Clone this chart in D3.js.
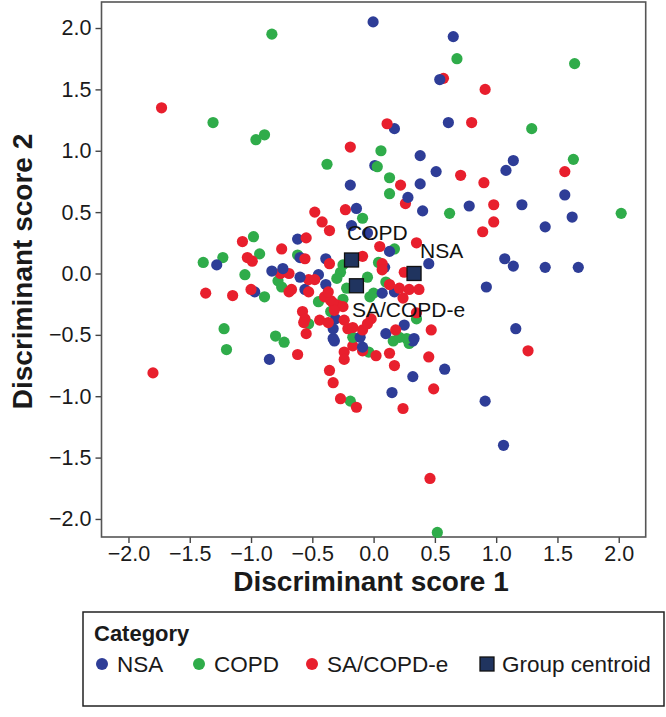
<!DOCTYPE html>
<html>
<head>
<meta charset="utf-8">
<script src="https://cdn.jsdelivr.net/npm/d3@7"></script>
<style>
  html, body { margin: 0; padding: 0; background: #fff; }
  svg { display: block; font-family: "Liberation Sans", Arial, Helvetica, sans-serif; }
</style>
</head>
<body>
<svg id="chart" width="666" height="717"></svg>
<script>
// ---- Data (discriminant scores) ----
const categories = ["NSA", "COPD", "SA/COPD-e"];
const categoryColors = ["#2e3d97", "#2fac4a", "#e81f2d"];

const nsaX = [-0.004,0.65,0.54,0.61,0.17,0.38,1.14,1.08,0.01,0.51,-0.19,0.38,1.56,0.28,0.78,1.21,0.40,1.62,-0.14,-0.18,1.40,-0.05,-1.28,-0.83,-0.74,-0.97,-0.85,1.07,1.14,1.40,1.67,0.92,1.16,0.91,1.06,-0.32,-0.09,0.32,0.58,0.32,0.15,-0.62,-0.60,-0.39,-0.45,-0.56,-0.39,-0.31,-0.33,0.13,0.45,0.17,0.33,0.09,0.07,0.10,0.25,-0.11,-0.33,-0.60];
const nsaY = [2.05,1.93,1.58,1.23,1.18,0.96,0.92,0.84,0.88,0.83,0.72,0.73,0.64,0.62,0.55,0.56,0.51,0.46,0.53,0.39,0.38,0.33,0.07,0.02,0.04,-0.15,-0.70,0.12,0.06,0.05,0.05,-0.11,-0.45,-1.04,-1.40,-0.55,-0.60,-0.55,-0.78,-0.84,-0.97,0.28,0.13,0.12,-0.01,-0.13,-0.09,-0.37,-0.53,0.18,0.08,-0.15,-0.53,0.05,-0.16,-0.49,-0.42,-0.52,-0.45,-0.03];

const copdX = [-0.83,0.68,1.64,-1.31,-0.96,-0.89,1.29,0.06,1.63,-0.38,0.03,0.13,0.13,0.62,2.02,-0.09,-0.98,-0.93,-1.23,-1.39,-1.05,-0.78,-0.75,-0.89,-1.22,-0.80,-0.73,-1.20,0.52,-0.04,0.16,0.29,-0.19,-0.62,-0.27,-0.25,-0.45,-0.25,-0.35,-0.53,0.17,0.04,0.27,0.35,-0.03,-0.05,0.10,0.00,0.21,-0.17,-0.30,-0.22];
const copdY = [1.95,1.75,1.71,1.23,1.09,1.13,1.18,1.00,0.93,0.89,0.87,0.78,0.65,0.49,0.49,0.45,0.30,0.16,0.13,0.09,-0.01,-0.06,-0.11,-0.19,-0.45,-0.51,-0.56,-0.62,-2.11,-0.64,-0.55,-0.57,-1.04,0.15,0.01,0.07,-0.23,-0.21,-0.31,-0.41,0.20,0.09,-0.53,-0.37,-0.19,-0.03,-0.07,-0.16,-0.52,-0.52,-0.04,-0.12];

const saX = [0.57,0.91,-1.73,0.80,0.11,-0.19,1.56,0.71,0.90,0.22,0.26,0.98,-0.48,-0.23,0.98,-0.42,0.89,-0.36,-1.07,-0.75,-1.03,-0.99,-0.76,-0.69,-1.37,-1.15,-1.00,-0.69,-1.80,1.26,0.46,-0.62,-0.17,-0.24,-0.24,-0.09,0.02,0.13,0.45,0.17,-0.36,-0.33,0.49,-0.27,-0.14,0.24,-0.55,-0.56,-0.36,-0.53,-0.48,-0.67,-0.53,-0.40,-0.35,-0.29,-0.58,-0.56,-0.44,-0.37,-0.21,-0.55,-0.09,0.35,0.25,0.13,0.29,0.37,0.18,0.47,-0.09,0.07,0.24,-0.33,-0.25,-0.57,0.35,0.05,0.07,0.21,-0.02,-0.05,-0.24,-0.17,-0.37,-0.32];
const saY = [1.59,1.50,1.35,1.23,1.22,1.03,0.83,0.80,0.74,0.72,0.57,0.56,0.50,0.52,0.42,0.42,0.34,0.35,0.26,0.20,0.13,0.10,0.00,0.00,-0.16,-0.18,-0.13,-0.15,-0.81,-0.63,-1.67,-0.66,-0.59,-0.64,-0.70,-0.63,-0.67,-0.65,-0.68,-0.75,-0.79,-0.89,-0.94,-1.02,-1.09,-1.10,0.29,0.12,0.08,-0.05,-0.05,-0.13,-0.15,-0.19,-0.22,-0.26,-0.31,-0.37,-0.38,-0.40,-0.45,-0.49,-0.46,0.25,0.01,-0.09,-0.13,-0.13,-0.46,-0.46,0.14,0.08,-0.20,-0.24,-0.27,-0.40,-0.32,0.22,0.03,-0.12,-0.37,-0.41,-0.38,-0.44,-0.15,-0.30];

const centroidNames = ["COPD", "NSA", "SA/COPD-e"];
const centroidX = [-0.18, 0.33, -0.14];
const centroidY = [0.11, 0.00, -0.10];

const xTicks = [-2.0, -1.5, -1.0, -0.5, 0.0, 0.5, 1.0, 1.5, 2.0];
const yTicks = [-2.0, -1.5, -1.0, -0.5, 0.0, 0.5, 1.0, 1.5, 2.0];
const legendLabels = ["NSA", "COPD", "SA/COPD-e", "Group centroid"];

// ---- Layout ----
const svg = d3.select("#chart");
const L = 101.5, R = 645.7, T = 2, B = 537;
const x = d3.scaleLinear().domain([-2.22, 2.22]).range([L, R]);
const y = d3.scaleLinear().domain([-2.147, 2.212]).range([B, T]);
const fmt = d => d < 0 ? "\u2212" + Math.abs(d).toFixed(1) : d.toFixed(1);

// Axes
const xAxis = svg.append("g").attr("transform", `translate(0,${B})`)
  .call(d3.axisBottom(x).tickValues(xTicks).tickFormat(fmt).tickSize(6).tickPadding(3));
const yAxis = svg.append("g").attr("transform", `translate(${L},0)`)
  .call(d3.axisLeft(y).tickValues(yTicks).tickFormat(fmt).tickSize(6).tickPadding(4));
[xAxis, yAxis].forEach(g => {
  g.select(".domain").remove();
  g.selectAll(".tick line").attr("stroke", "#444").attr("stroke-width", 1.4);
  g.selectAll(".tick text").attr("font-size", 21.5).attr("fill", "#1a1a1a")
    .attr("font-family", "'Liberation Sans', Arial, sans-serif");
});

// Frame
svg.append("rect").attr("x", L).attr("y", T).attr("width", R - L).attr("height", B - T)
  .attr("fill", "none").attr("stroke", "#555").attr("stroke-width", 1.6);

// Points
const groups = [
  { xs: nsaX, ys: nsaY, c: categoryColors[0] },
  { xs: copdX, ys: copdY, c: categoryColors[1] },
  { xs: saX, ys: saY, c: categoryColors[2] }
];
const pts = [];
groups.forEach((g, gi) => g.xs.forEach((v, i) => pts.push({ x: v, y: g.ys[i], c: g.c, k: i * 3 + gi })));
pts.sort((a, b) => a.k - b.k);
svg.append("g").selectAll("circle").data(pts).join("circle")
  .attr("cx", d => x(d.x)).attr("cy", d => y(d.y)).attr("r", 5.6)
  .attr("fill", d => d.c);

// Centroids
const cents = centroidNames.map((n, i) => ({ n, x: centroidX[i], y: centroidY[i] }));
svg.append("g").selectAll("rect").data(cents).join("rect")
  .attr("x", d => x(d.x) - 7).attr("y", d => y(d.y) - 7).attr("width", 14).attr("height", 14)
  .attr("fill", "#20345f").attr("stroke", "#111").attr("stroke-width", 1.3);
const labelOff = { "COPD": [-4.5, -19.5], "NSA": [6, -15.5], "SA/COPD-e": [-4.5, 31.5] };
svg.append("g").selectAll("text").data(cents).join("text")
  .attr("x", d => x(d.x) + labelOff[d.n][0]).attr("y", d => y(d.y) + labelOff[d.n][1])
  .attr("font-size", 21).attr("fill", "#111").text(d => d.n);

// Axis titles
svg.append("text").attr("x", 371).attr("y", 591).attr("text-anchor", "middle")
  .attr("font-size", 28).attr("font-weight", "bold").attr("fill", "#1a1a1a").text("Discriminant score 1");
svg.append("text").attr("transform", `translate(32,${(T + B) / 2 + 2}) rotate(-90)`).attr("text-anchor", "middle")
  .attr("font-size", 28).attr("font-weight", "bold").attr("fill", "#1a1a1a").text("Discriminant score 2");

// Legend
const lg = svg.append("g");
lg.append("rect").attr("x", 83).attr("y", 612).attr("width", 581).attr("height", 94)
  .attr("fill", "#fff").attr("stroke", "#222").attr("stroke-width", 1.5);
lg.append("text").attr("x", 94).attr("y", 641).attr("font-size", 22).attr("font-weight", "bold")
  .attr("fill", "#1a1a1a").text("Category");
const legX = [102, 199, 312, 487];
legendLabels.forEach((lab, i) => {
  if (i < 3) {
    lg.append("circle").attr("cx", legX[i]).attr("cy", 664).attr("r", 6).attr("fill", categoryColors[i]);
  } else {
    lg.append("rect").attr("x", legX[i] - 7).attr("y", 657).attr("width", 14).attr("height", 14)
      .attr("fill", "#20345f").attr("stroke", "#111").attr("stroke-width", 1.3);
  }
  lg.append("text").attr("x", legX[i] + 15).attr("y", 672).attr("font-size", 22.5)
    .attr("fill", "#1a1a1a").text(lab);
});
</script>
</body>
</html>
